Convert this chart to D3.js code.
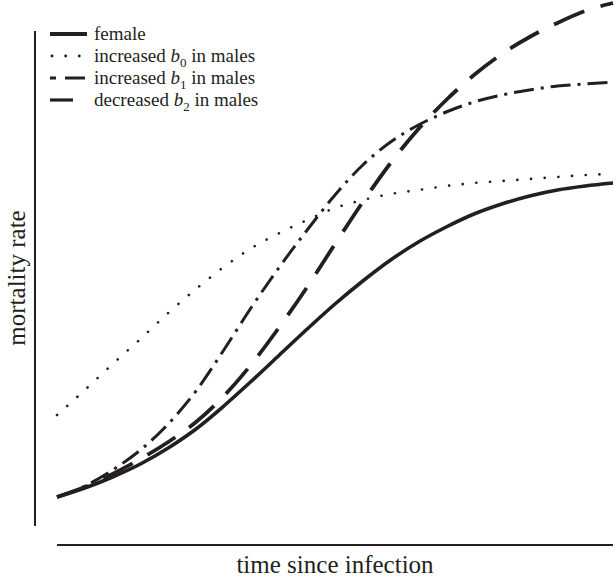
<!DOCTYPE html>
<html>
<head>
<meta charset="utf-8">
<script src="https://cdn.jsdelivr.net/npm/d3@7"></script>
<style>
  html, body { margin: 0; padding: 0; background: #fff; }
  svg { display: block; }
  text { font-family: "Liberation Serif", "Times New Roman", serif; fill: #231f20; }
</style>
</head>
<body>
<svg id="chart" width="616" height="578"></svg>
<script>
// time since infection (arbitrary units, no ticks shown)
const times = [0,0.5,1,1.5,2,2.5,3,3.5,4,4.5,5,5.5,6,6.5,7,7.5,8,8.5,9,9.5,10];
// mortality rate (arbitrary units)
const female =      [4.3,5.2,6.3,7.6,9.2,11.1,13.4,15.9,18.5,21.1,23.6,25.9,28.0,29.8,31.3,32.6,33.6,34.4,35.0,35.4,35.7];
const increasedB0 = [12.5,15.0,17.6,20.1,22.7,25.1,27.3,29.2,30.7,32.0,33.2,34.0,34.6,35.0,35.4,35.7,35.9,36.1,36.3,36.5,36.6];
const increasedB1 = [4.3,5.4,7.0,9.0,11.6,14.9,19.0,23.3,27.3,31.0,34.5,37.5,39.8,41.5,42.8,43.8,44.5,45.0,45.4,45.6,45.8];
const decreasedB2 = [4.3,5.3,6.6,8.1,9.8,11.8,14.4,17.6,21.3,25.3,29.6,33.8,37.7,41.1,44.0,46.5,48.6,50.3,51.7,52.9,53.7];

const seriesNames = ["female", "increased b0 in males", "increased b1 in males", "decreased b2 in males"];
const axisLabels = { x: "time since infection", y: "mortality rate" };

const ink = "#231f20";
const styles = [
  { width: 3.6, dash: null, cap: "butt" },
  { width: 2.6, dash: "0.1,13.6", cap: "round" },
  { width: 3.0, dash: "20,7,3,7", cap: "butt" },
  { width: 3.8, dash: "33,17", cap: "butt" }
];
const seriesData = [female, increasedB0, increasedB1, decreasedB2];

const svg = d3.select("#chart");
const x = d3.scaleLinear().domain([0, 10]).range([57, 613]);
const y = d3.scaleLinear().domain([0, 54]).range([540, 0]);

// axes (plain lines, no ticks)
svg.append("line").attr("x1", 35).attr("x2", 35).attr("y1", 31).attr("y2", 526)
  .attr("stroke", ink).attr("stroke-width", 2);
svg.append("line").attr("x1", 57).attr("x2", 613).attr("y1", 545).attr("y2", 545)
  .attr("stroke", ink).attr("stroke-width", 2);

const line = d3.line().x((d, i) => x(times[i])).y(d => y(d)).curve(d3.curveMonotoneX);

seriesData.forEach((s, k) => {
  const st = styles[k];
  svg.append("path").datum(s).attr("d", line)
    .attr("fill", "none").attr("stroke", ink)
    .attr("stroke-width", st.width)
    .attr("stroke-linecap", st.cap)
    .attr("stroke-dasharray", st.dash);
});

// axis labels
svg.append("text").attr("x", 335).attr("y", 573).attr("text-anchor", "middle")
  .attr("font-size", 25).text(axisLabels.x);
svg.append("text").attr("transform", "translate(25,278) rotate(-90)")
  .attr("text-anchor", "middle").attr("font-size", 25).text(axisLabels.y);

// legend
const legendRows = [34, 56, 78, 100];
const legendSamples = [
  { x1: 50, x2: 87, dash: null, width: 4, cap: "butt" },
  { x1: 52, x2: 80, dash: "0.1,13.5", width: 2.8, cap: "round" },
  { x1: 50, x2: 85, dash: "6,9,20", width: 3.2, cap: "butt" },
  { x1: 50, x2: 73, dash: null, width: 3.2, cap: "butt" }
];
const leg = svg.append("g");
legendRows.forEach((ry, k) => {
  const s = legendSamples[k];
  leg.append("line").attr("x1", s.x1).attr("x2", s.x2).attr("y1", ry).attr("y2", ry)
    .attr("stroke", ink).attr("stroke-width", s.width)
    .attr("stroke-linecap", s.cap).attr("stroke-dasharray", s.dash);
  const t = leg.append("text").attr("x", 94).attr("y", ry + 6).attr("font-size", 19);
  const name = seriesNames[k];
  const m = name.match(/^(.*?)b(\d)(.*)$/);
  if (m) {
    t.append("tspan").text(m[1]);
    t.append("tspan").attr("font-style", "italic").text("b");
    t.append("tspan").attr("font-size", 13).attr("dy", 5).text(m[2]);
    t.append("tspan").attr("dy", -5).text(m[3]);
  } else {
    t.text(name);
  }
});
</script>
</body>
</html>
